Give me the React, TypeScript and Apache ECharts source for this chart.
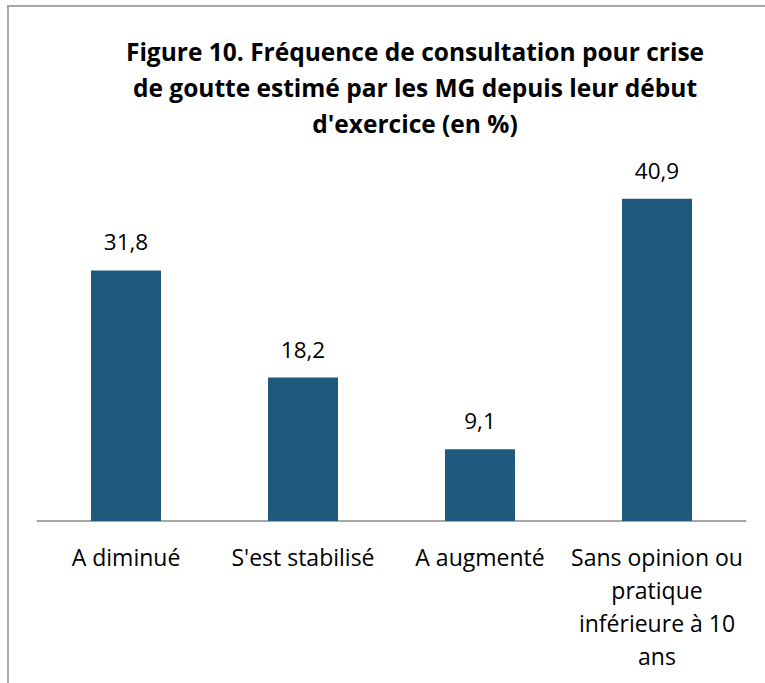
import React, { useEffect, useRef } from "react";
import * as echarts from "echarts";

const categories = [
  "A diminué",
  "S'est stabilisé",
  "A augmenté",
  "Sans opinion ou\npratique\ninférieure à 10\nans",
];
const values = [31.8, 18.2, 9.1, 40.9];
const titleText =
  "Figure 10. Fréquence de consultation pour crise\nde goutte estimé par les MG depuis leur début\nd'exercice (en %)";

const FONT = "'Open Sans', sans-serif";

export default function App() {
  const ref = useRef<HTMLDivElement>(null);
  useEffect(() => {
    if (!ref.current) return;
    const chart = echarts.init(ref.current, undefined, { renderer: "svg" });
    chart.setOption({
      animation: false,
      backgroundColor: "#ffffff",
      title: {
        text: titleText,
        left: 410,
        top: 28,
        textAlign: "center",
        textStyle: {
          fontFamily: FONT,
          fontWeight: "bold",
          fontSize: 24.5,
          lineHeight: 36,
          color: "#000000",
        },
      },
      graphic: [
        {
          type: "rect",
          shape: { x: 8, y: 6, width: 800, height: 720 },
          style: { fill: "none", stroke: "#a6a6a6", lineWidth: 2 },
          silent: true,
        },
      ],
      grid: { left: 37.5, right: 19.5, top: 166.4, bottom: 162, containLabel: false },
      xAxis: {
        type: "category",
        data: categories,
        axisLine: { show: true, lineStyle: { color: "#a6a6a6", width: 2 } },
        axisTick: { show: false },
        axisLabel: {
          interval: 0,
          margin: 19,
          fontFamily: FONT,
          fontSize: 23,
          lineHeight: 33,
          color: "#000000",
        },
      },
      yAxis: {
        type: "value",
        min: 0,
        max: 45,
        show: false,
        splitLine: { show: false },
      },
      series: [
        {
          type: "bar",
          data: values,
          barWidth: 70,
          itemStyle: { color: "#1f5a7e" },
          label: {
            show: true,
            position: "top",
            distance: 17,
            fontFamily: FONT,
            fontSize: 22.5,
            color: "#000000",
            formatter: (p: any) => String(p.value).replace(".", ","),
          },
        },
      ],
    });
    return () => chart.dispose();
  }, []);
  return (
    <div
      ref={ref}
      style={{ position: "fixed", left: 0, top: 0, width: 765, height: 683 }}
    />
  );
}
